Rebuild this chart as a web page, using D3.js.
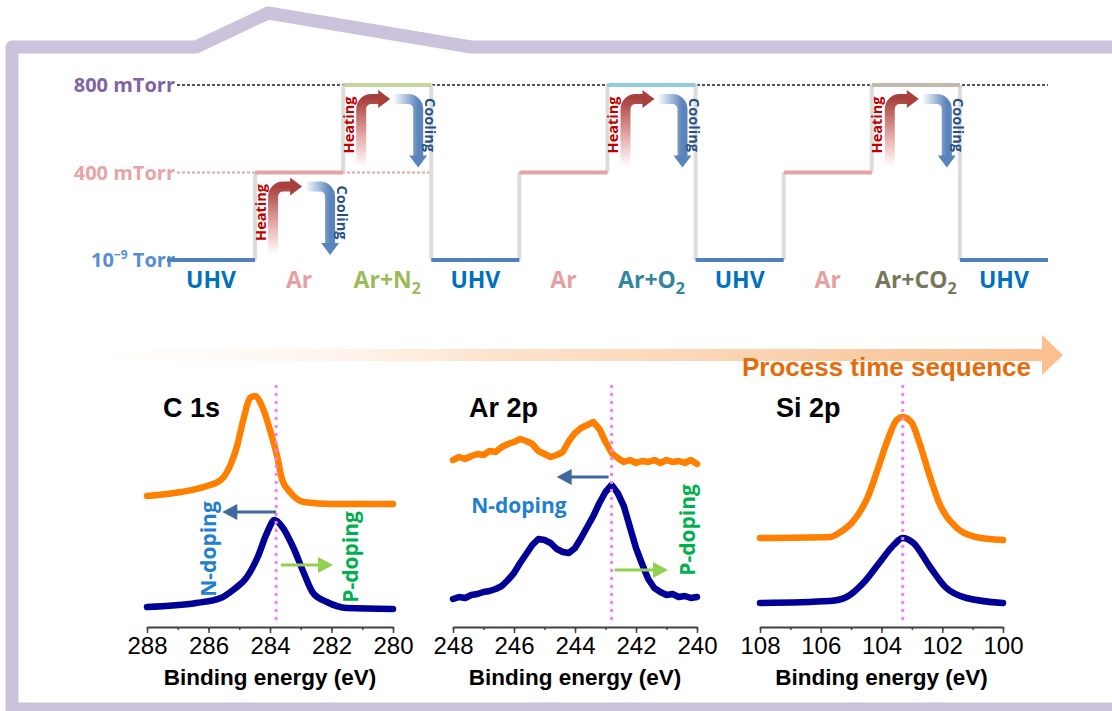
<!DOCTYPE html>
<html>
<head>
<meta charset="utf-8">
<script src="https://cdn.jsdelivr.net/npm/d3@7"></script>
<style>
  body { margin: 0; background: #fff; }
  svg { display: block; }
</style>
</head>
<body>
<div id="chart"></div>
<script>
// ---- process steps (top) ----
const stages = ['UHV', 'Ar', 'Ar+N2', 'UHV', 'Ar', 'Ar+O2', 'UHV', 'Ar', 'Ar+CO2', 'UHV'];
const stageLevels = [0, 1, 2, 0, 1, 2, 0, 1, 2, 0];
const annealStages = [1, 2, 5, 8];   // stages with heating / cooling
const pressureLabels = ['10|-9| Torr', '400 mTorr', '800 mTorr'];

// ---- XPS spectra (binding energy eV, intensity a.u.) ----
const panelTitles = ['C 1s', 'Ar 2p', 'Si 2p'];
const panelDomains = [[288, 280], [248, 240], [108, 100]];

const c1sEnergy = [288, 286.9, 286.05, 285.6, 285.3, 285.07, 284.87, 284.65, 284.5, 284.26, 284.0, 283.77, 283.6, 283.35, 282.9, 282.0, 280];
const c1sAfter  = [0.62, 0.64, 0.67, 0.70, 0.77, 0.87, 1.00, 1.11, 1.12, 1.07, 0.95, 0.82, 0.70, 0.64, 0.59, 0.58, 0.58];
const c1sEnergyB = [288, 286.4, 285.6, 285.2, 284.75, 284.4, 284.1, 283.85, 283.6, 283.25, 282.9, 282.6, 282.15, 281.5, 280];
const c1sBefore = [0.065, 0.085, 0.11, 0.15, 0.215, 0.315, 0.435, 0.50, 0.465, 0.365, 0.235, 0.135, 0.09, 0.06, 0.055];

const ar2pEnergy = d3.range(248, 239.95, -0.2);
const ar2pAfter = [0.80, 0.815, 0.805, 0.82, 0.83, 0.825, 0.845, 0.84, 0.865, 0.88, 0.89, 0.905, 0.895, 0.88, 0.845, 0.83, 0.815, 0.825, 0.84, 0.895, 0.935,
                   0.96, 0.975, 0.99, 0.955, 0.89, 0.835, 0.81, 0.79, 0.80, 0.785, 0.795, 0.79, 0.80, 0.785, 0.80, 0.79, 0.795, 0.785, 0.80, 0.78];
const ar2pBefore = [0.105, 0.115, 0.11, 0.125, 0.13, 0.14, 0.145, 0.155, 0.17, 0.20, 0.235, 0.285, 0.33, 0.375, 0.405, 0.40, 0.385, 0.355, 0.34, 0.335, 0.36,
                    0.41, 0.465, 0.52, 0.585, 0.64, 0.675, 0.635, 0.57, 0.465, 0.36, 0.28, 0.205, 0.16, 0.14, 0.125, 0.13, 0.115, 0.12, 0.11, 0.115];

const si2pEnergy = [108, 105.7, 105.4, 104.9, 104.45, 104.1, 103.8, 103.5, 103.3, 103.0, 102.75, 102.4, 102.1, 101.55, 100.9, 100];
const si2pAfter  = [0.41, 0.415, 0.435, 0.50, 0.615, 0.765, 0.90, 1.00, 1.015, 0.985, 0.885, 0.715, 0.585, 0.465, 0.415, 0.40];
const si2pEnergyB = [108, 105.7, 105.15, 104.6, 104.05, 103.6, 103.3, 102.95, 102.4, 101.9, 101.2, 100];
const si2pBefore = [0.085, 0.095, 0.115, 0.185, 0.29, 0.375, 0.41, 0.385, 0.265, 0.165, 0.11, 0.085];

const refEnergy = [283.8, 242.8, 103.3];   // pink reference lines

const dopingArrows = [
  { panel: 0, kind: 'N', from: 283.8, to: 285.55, at: 0.54 },
  { panel: 0, kind: 'P', from: 283.65, to: 281.95, at: 0.275 },
  { panel: 1, kind: 'N', from: 242.9, to: 244.6, at: 0.715 },
  { panel: 1, kind: 'P', from: 242.7, to: 240.95, at: 0.25 }
];
const dopingLabels = [
  { panel: 0, text: 'N-doping', e: 286.02, at: 0.355, rot: -90 },
  { panel: 0, text: 'P-doping', e: 281.4, at: 0.315, rot: -90 },
  { panel: 1, text: 'N-doping', e: 245.84, at: 0.575, rot: 0 },
  { panel: 1, text: 'P-doping', e: 240.33, at: 0.45, rot: -90 }
];

// ---- drawing ----
const W = 1112, H = 711;
const svg = d3.select('#chart').append('svg')
  .attr('width', W).attr('height', H)
  .style('font-family', "'Open Sans', 'DejaVu Sans', sans-serif");
const defs = svg.append('defs');

// frame
const framePts = [[1125, 47], [471, 47], [268, 13], [196, 47], [12, 47], [12, 709], [1125, 709]];
svg.append('path')
  .attr('d', d3.line()(framePts))
  .attr('fill', 'none')
  .attr('stroke', '#cbc2dc')
  .attr('stroke-width', 13)
  .attr('stroke-linejoin', 'round');

const lineColor = { 'UHV': '#4f81bd', 'Ar': '#e6a3a3', 'Ar+N2': '#c3d69b', 'Ar+O2': '#93cddd', 'Ar+CO2': '#c4b8b0' };
const textColor = { 'UHV': '#0070c0', 'Ar': '#e6a0a0', 'Ar+N2': '#9bbb59', 'Ar+O2': '#31859c', 'Ar+CO2': '#76775a' };
const levelColor = ['#558ed5', '#e6a5a5', '#8064a2'];

const xStage = d3.scaleBand().domain(d3.range(stages.length)).range([167, 1048]);
const yLevel = d3.scalePoint().domain([0, 1, 2]).range([260, 85]);
const bw = xStage.bandwidth();

// reference dotted lines
svg.append('line')
  .attr('x1', 177).attr('x2', xStage.range()[1])
  .attr('y1', yLevel(2)).attr('y2', yLevel(2))
  .attr('stroke', '#222').attr('stroke-width', 1.5).attr('stroke-dasharray', '3,2');
svg.append('line')
  .attr('x1', 177).attr('x2', xStage(3))
  .attr('y1', yLevel(1)).attr('y2', yLevel(1))
  .attr('stroke', '#e6a5a5').attr('stroke-width', 2).attr('stroke-dasharray', '3,2');

// pressure labels
pressureLabels.forEach((lab, k) => {
  const t = svg.append('text')
    .attr('x', 175).attr('y', yLevel(k) + 7)
    .attr('text-anchor', 'end')
    .attr('fill', levelColor[k])
    .style('font-size', '20px').style('font-weight', 'bold');
  const parts = lab.split('|');
  t.append('tspan').text(parts[0]);
  if (parts.length > 1) {
    t.append('tspan').attr('dy', -8).style('font-size', '12px').text('\u2212' + parts[1].replace('-', ''));
    t.append('tspan').attr('dy', 8).text(parts[2]);
  }
});

// step connectors
svg.append('g').selectAll('line')
  .data(d3.range(1, stages.length))
  .join('line')
  .attr('x1', i => xStage(i)).attr('x2', i => xStage(i))
  .attr('y1', i => yLevel(stageLevels[i - 1])).attr('y2', i => yLevel(stageLevels[i]))
  .attr('stroke', '#dcdcdc').attr('stroke-width', 4);

// step levels
svg.append('g').selectAll('line')
  .data(d3.range(stages.length))
  .join('line')
  .attr('x1', i => xStage(i)).attr('x2', i => xStage(i) + bw)
  .attr('y1', i => yLevel(stageLevels[i])).attr('y2', i => yLevel(stageLevels[i]))
  .attr('stroke', i => lineColor[stages[i]]).attr('stroke-width', 4);

// stage names
svg.append('g').selectAll('text')
  .data(d3.range(stages.length))
  .join('text')
  .attr('x', i => xStage(i) + bw / 2)
  .attr('y', 288)
  .attr('text-anchor', 'middle')
  .attr('fill', i => textColor[stages[i]])
  .style('font-size', '23px').style('font-weight', 'bold')
  .each(function (i) {
    const m = stages[i].match(/^(.*?)(\d)$/);
    const sel = d3.select(this);
    if (m) {
      sel.append('tspan').text(m[1]);
      sel.append('tspan').attr('dy', 6).style('font-size', '16px').text(m[2]);
    } else {
      sel.text(stages[i]);
    }
  });

// heating / cooling arrows
const hg = defs.append('linearGradient').attr('id', 'heatGrad')
  .attr('x1', 0).attr('y1', 1).attr('x2', 0).attr('y2', 0);
hg.append('stop').attr('offset', 0).attr('stop-color', '#ffffff');
hg.append('stop').attr('offset', 0.45).attr('stop-color', '#e4a9a8');
hg.append('stop').attr('offset', 1).attr('stop-color', '#a8413e');
const cg = defs.append('linearGradient').attr('id', 'coolGrad')
  .attr('x1', 0).attr('y1', 0).attr('x2', 1).attr('y2', 0);
cg.append('stop').attr('offset', 0).attr('stop-color', '#ffffff');
cg.append('stop').attr('offset', 0.5).attr('stop-color', '#a9c1e0');
cg.append('stop').attr('offset', 1).attr('stop-color', '#5a84ba');

annealStages.forEach(i => {
  const s = xStage(i);
  const top = yLevel(stageLevels[i]);
  const bot = yLevel(stageLevels[i] - 1);
  const hy = top + 14, r = 10;
  const vx = s + 18, cx = s + 75;

  const hp = d3.path();
  hp.moveTo(vx, bot - 6);
  hp.lineTo(vx, hy + r);
  hp.arcTo(vx, hy, vx + r, hy, r);
  hp.lineTo(s + 37, hy);
  svg.append('path').attr('d', hp.toString())
    .attr('fill', 'none').attr('stroke', 'url(#heatGrad)').attr('stroke-width', 10);
  svg.append('path')
    .attr('d', d3.line()([[s + 35, hy - 9], [s + 47, hy], [s + 35, hy + 9]]) + 'Z')
    .attr('fill', '#a8413e');

  const cp = d3.path();
  cp.moveTo(s + 50, hy);
  cp.lineTo(cx - r, hy);
  cp.arcTo(cx, hy, cx, hy + r, r);
  cp.lineTo(cx, bot - 16);
  svg.append('path').attr('d', cp.toString())
    .attr('fill', 'none').attr('stroke', 'url(#coolGrad)').attr('stroke-width', 10);
  svg.append('path')
    .attr('d', d3.line()([[cx - 9, bot - 17], [cx, bot - 5], [cx + 9, bot - 17]]) + 'Z')
    .attr('fill', '#5a84ba');

  svg.append('text')
    .attr('transform', `translate(${s + 5},${top + 40}) rotate(-90)`)
    .attr('text-anchor', 'middle').attr('dominant-baseline', 'central')
    .attr('fill', '#c00000')
    .style('font-size', '14.5px').style('font-weight', 'bold')
    .text('Heating');
  svg.append('text')
    .attr('transform', `translate(${s + 87},${top + 40}) rotate(90)`)
    .attr('text-anchor', 'middle').attr('dominant-baseline', 'central')
    .attr('fill', '#264f85')
    .style('font-size', '14.5px').style('font-weight', 'bold')
    .text('Cooling');
});

// process time arrow
const pg = defs.append('linearGradient').attr('id', 'procGrad')
  .attr('gradientUnits', 'userSpaceOnUse')
  .attr('x1', 40).attr('x2', 1063).attr('y1', 0).attr('y2', 0);
pg.append('stop').attr('offset', 0).attr('stop-color', '#ffffff').attr('stop-opacity', 0);
pg.append('stop').attr('offset', 0.45).attr('stop-color', '#fde3cc');
pg.append('stop').attr('offset', 1).attr('stop-color', '#fabf8f');
svg.append('path')
  .attr('d', d3.line()([[40, 349], [1042, 349], [1042, 335], [1063, 355], [1042, 375], [1042, 361], [40, 361]]) + 'Z')
  .attr('fill', 'url(#procGrad)');
svg.append('text')
  .attr('x', 1031).attr('y', 376)
  .attr('text-anchor', 'end')
  .attr('fill', '#e46c0a')
  .style('font-family', "'Liberation Sans Narrow', 'Liberation Sans', sans-serif")
  .style('font-size', '26px').style('font-weight', 'bold')
  .text('Process time sequence');

// spectra panels
const panelRanges = [[147, 393], [453, 697], [760, 1003]];
const y = d3.scaleLinear().domain([0, 1.2]).range([620, 380]);
const axisY = 627;
const spectra = [
  [{ e: c1sEnergy, v: c1sAfter }, { e: c1sEnergyB, v: c1sBefore }],
  [{ e: ar2pEnergy, v: ar2pAfter }, { e: ar2pEnergy, v: ar2pBefore }],
  [{ e: si2pEnergy, v: si2pAfter }, { e: si2pEnergyB, v: si2pBefore }]
];
const seriesColor = ['#ff8000', '#000096'];

const xScales = panelDomains.map((d, k) => d3.scaleLinear().domain(d).range(panelRanges[k]));

xScales.forEach((x, k) => {
  const g = svg.append('g');
  const [hi, lo] = panelDomains[k];

  // axis
  const minor = g.append('g').attr('transform', `translate(0,${axisY})`)
    .call(d3.axisBottom(x).tickValues(d3.range(lo, hi + 1, 1)).tickSize(3).tickSizeOuter(0).tickFormat(''));
  minor.select('.domain').remove();
  minor.selectAll('line').attr('stroke', '#404040').attr('stroke-width', 1.5);
  const major = g.append('g').attr('transform', `translate(0,${axisY})`)
    .call(d3.axisBottom(x).tickValues(d3.range(lo, hi + 1, 2)).tickSize(6).tickSizeOuter(0).tickPadding(4).tickFormat(d3.format('d')));
  major.select('.domain').attr('stroke', '#404040').attr('stroke-width', 2);
  major.selectAll('line').attr('stroke', '#404040').attr('stroke-width', 1.5);
  major.selectAll('text')
    .style('font-family', "'Liberation Sans', Arial, sans-serif")
    .style('font-size', '24px').attr('fill', '#000');

  g.append('text')
    .attr('x', (panelRanges[k][0] + panelRanges[k][1]) / 2).attr('y', 685)
    .attr('text-anchor', 'middle')
    .style('font-family', "'Liberation Sans', Arial, sans-serif")
    .style('font-size', '22.5px').style('font-weight', 'bold')
    .text('Binding energy (eV)');

  g.append('text')
    .attr('x', panelRanges[k][0] + 16).attr('y', 417)
    .style('font-family', "'Liberation Sans', Arial, sans-serif")
    .style('font-size', '27px').style('font-weight', 'bold')
    .text(panelTitles[k]);

  // spectra
  const line = d3.line().x(d => x(d[0])).y(d => y(d[1]))
    .curve(k === 1 ? d3.curveLinear : d3.curveMonotoneX);
  spectra[k].forEach((s, j) => {
    g.append('path')
      .attr('d', line(s.e.map((e, n) => [e, s.v[n]])))
      .attr('fill', 'none')
      .attr('stroke', seriesColor[j])
      .attr('stroke-width', 6.5)
      .attr('stroke-linejoin', 'round')
      .attr('stroke-linecap', 'round');
  });

  // reference line
  g.append('line')
    .attr('x1', x(refEnergy[k])).attr('x2', x(refEnergy[k]))
    .attr('y1', 385).attr('y2', 622)
    .attr('stroke', '#f77ef7').attr('stroke-width', 3).attr('stroke-dasharray', '3,5');
});

// doping arrows
dopingArrows.forEach(a => {
  const x = xScales[a.panel];
  const x0 = x(a.from), x1 = x(a.to), yy = y(a.at);
  const dir = Math.sign(x1 - x0);
  const col = a.kind === 'N' ? '#41689e' : '#92d050';
  svg.append('line')
    .attr('x1', x0).attr('x2', x1 - dir * 12)
    .attr('y1', yy).attr('y2', yy)
    .attr('stroke', col).attr('stroke-width', 3);
  svg.append('path')
    .attr('d', d3.line()([[x1 - dir * 15, yy - 8], [x1, yy], [x1 - dir * 15, yy + 8]]) + 'Z')
    .attr('fill', col);
});

dopingLabels.forEach(l => {
  const x = xScales[l.panel];
  svg.append('text')
    .attr('transform', `translate(${x(l.e)},${y(l.at)}) rotate(${l.rot})`)
    .attr('text-anchor', 'middle').attr('dominant-baseline', 'central')
    .attr('fill', l.text.startsWith('N') ? '#1f80d0' : '#00b050')
    .style('font-size', '21px').style('font-weight', 'bold')
    .text(l.text);
});
</script>
</body>
</html>
